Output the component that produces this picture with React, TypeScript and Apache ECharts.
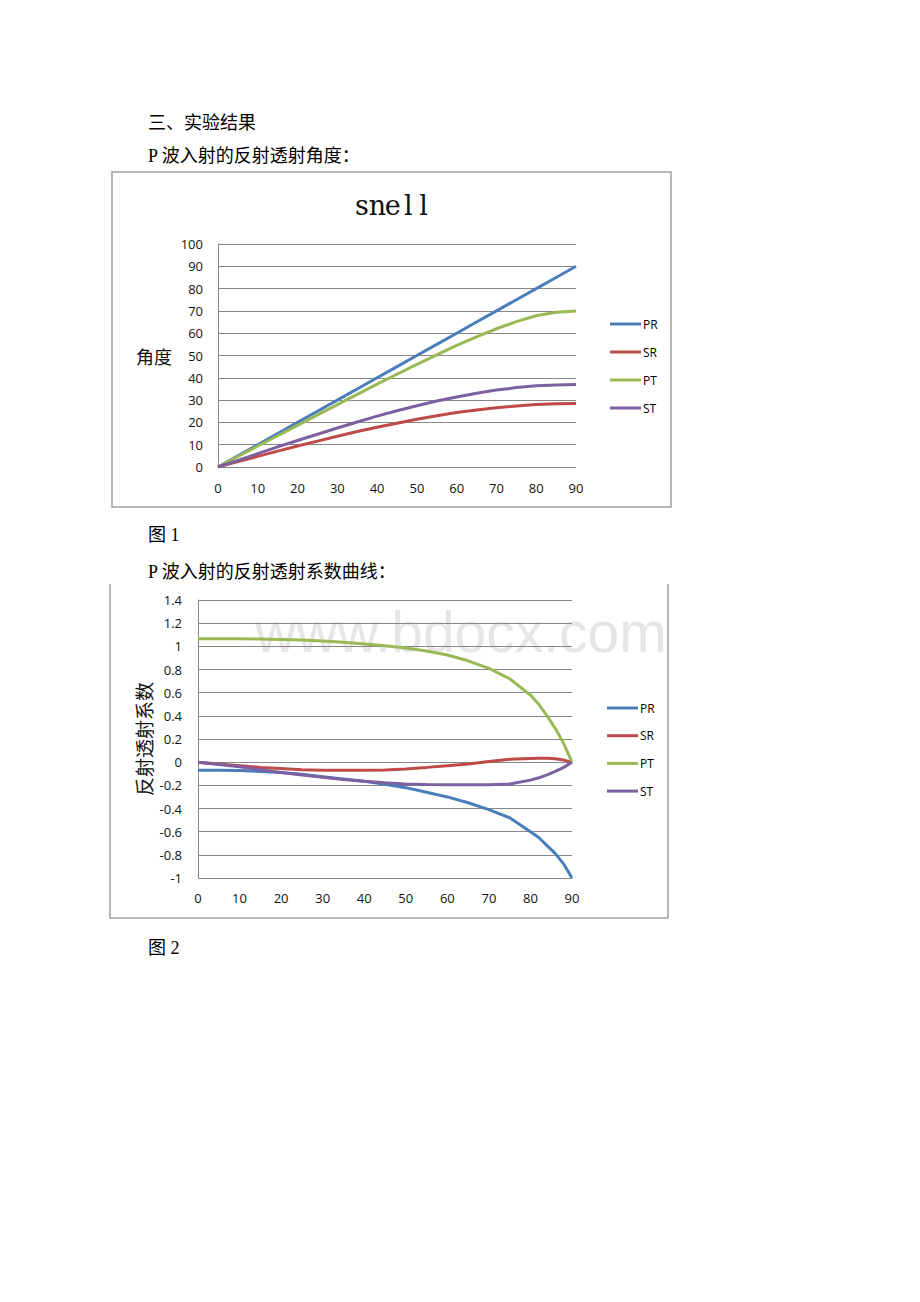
import React, { useEffect, useRef } from "react";
import * as echarts from "echarts";

// ---- Chart 1 data (snell angles) ----
const angles1 = [0, 5, 10, 15, 20, 25, 30, 35, 40, 45, 50, 55, 60, 65, 70, 75, 80, 85, 90];
const pr1 = [0, 5, 10, 15, 20, 25, 30, 35, 40, 45, 50, 55, 60, 65, 70, 75, 80, 85, 90];
const sr1 = [0, 2.4, 4.75, 7.1, 9.4, 11.6, 13.8, 15.9, 17.8, 19.6, 21.4, 23.0, 24.4, 25.6, 26.6, 27.4, 28.0, 28.4, 28.5];
const pt1 = [0, 4.7, 9.4, 14.0, 18.7, 23.4, 28.0, 32.6, 37.2, 41.6, 46.0, 50.3, 54.5, 58.4, 62.0, 65.2, 67.8, 69.4, 70];
const st1 = [0, 3.0, 6.0, 9.0, 11.9, 14.7, 17.5, 20.2, 22.8, 25.2, 27.5, 29.6, 31.4, 33.1, 34.5, 35.6, 36.4, 36.8, 37];

// ---- Chart 2 data (coefficients) ----
const angles2 = [0, 5, 10, 15, 20, 25, 30, 35, 40, 45, 50, 55, 60, 65, 70, 75, 80, 82, 84, 86, 88, 90];
const pr2 = [-0.07, -0.07, -0.072, -0.08, -0.09, -0.105, -0.125, -0.145, -0.165, -0.19, -0.22, -0.26, -0.3, -0.35, -0.41, -0.48, -0.6, -0.65, -0.72, -0.79, -0.88, -1.0];
const sr2 = [0, -0.015, -0.03, -0.045, -0.055, -0.065, -0.07, -0.07, -0.07, -0.068, -0.058, -0.045, -0.03, -0.015, 0.005, 0.025, 0.032, 0.034, 0.034, 0.03, 0.018, 0];
const pt2 = [1.065, 1.065, 1.065, 1.063, 1.06, 1.055, 1.045, 1.035, 1.02, 1.005, 0.985, 0.96, 0.925, 0.875, 0.81, 0.72, 0.58, 0.5, 0.4, 0.29, 0.16, 0];
const st2 = [0, -0.02, -0.04, -0.065, -0.09, -0.11, -0.13, -0.15, -0.165, -0.178, -0.188, -0.193, -0.195, -0.195, -0.195, -0.188, -0.155, -0.135, -0.11, -0.08, -0.045, 0];

const seriesNames = ["PR", "SR", "PT", "ST"];
const colors = ["#4A7EBB", "#BE4B48", "#98B954", "#7D60A0"];
const chartTitle = "snell";

const xTicks = { min: 0, max: 90, interval: 10 };

const pairs = (xs: number[], ys: number[]) => xs.map((x, i) => [x, ys[i]]);

export default function App() {
  const ref = useRef<HTMLDivElement>(null);
  useEffect(() => {
    if (!ref.current) return;
    const chart = echarts.init(ref.current, undefined, { renderer: "svg" });
    const gridColor = "#878787";
    const labelFont = { fontFamily: "Open Sans", fontSize: 13, color: "#111" };
    const data1 = [pr1, sr1, pt1, st1];
    const data2 = [pr2, sr2, pt2, st2];
    const lineSeries = (idx: number, d: number[][]) =>
      seriesNames.map((n, i) => ({
        name: n,
        type: "line",
        xAxisIndex: idx,
        yAxisIndex: idx,
        data: pairs(idx === 0 ? angles1 : angles2, d[i]),
        showSymbol: false,
        symbol: "none",
        lineStyle: { width: 3, color: colors[i] },
        itemStyle: { color: colors[i] },
        z: 3,
      }));
    const bodyFont = '18px "Liberation Serif", "Noto Sans CJK SC"';
    const bodyText = (text: string, x: number, y: number) => ({
      type: "text",
      style: { text, x, y, fill: "#000", font: bodyFont, textAlign: "left", textVerticalAlign: "middle" },
    });
    const titleLetters = chartTitle.split("").map((ch, i) => ({
      type: "text",
      style: {
        text: ch,
        x: 362 + i * 15.4,
        y: 205,
        fill: "#111",
        font: '27px "DejaVu Serif"',
        textAlign: "center",
        textVerticalAlign: "middle",
      },
      z: 5,
    }));
    const legendBase = {
      orient: "vertical",
      data: seriesNames,
      icon: "rect",
      itemWidth: 31,
      itemHeight: 3,
      textStyle: { fontFamily: "Open Sans", fontSize: 12, color: "#000", lineHeight: 14, padding: [0, 0, 0, -3] },
      selectedMode: false,
    };
    chart.setOption({
      animation: false,
      backgroundColor: "#fff",
      color: colors,
      grid: [
        { left: 218, top: 244, width: 358, height: 223 },
        { left: 198, top: 600, width: 374, height: 278 },
      ],
      xAxis: [0, 1].map((g) => ({
        type: "value",
        gridIndex: g,
        ...xTicks,
        axisLine: { show: false },
        axisTick: { show: false },
        splitLine: { show: false },
        axisLabel: { ...labelFont, margin: g === 0 ? 14 : 13 },
      })),
      yAxis: [
        {
          type: "value",
          gridIndex: 0,
          min: 0,
          max: 100,
          interval: 10,
          axisLine: { show: true, lineStyle: { color: gridColor } },
          axisTick: { show: false },
          splitLine: { show: true, lineStyle: { color: gridColor, width: 1 } },
          axisLabel: { ...labelFont, margin: 15 },
        },
        {
          type: "value",
          gridIndex: 1,
          min: -1,
          max: 1.4,
          interval: 0.2,
          axisLine: { show: true, lineStyle: { color: gridColor } },
          axisTick: { show: false },
          splitLine: { show: true, lineStyle: { color: gridColor, width: 1 } },
          axisLabel: { ...labelFont, margin: 16, formatter: (v: number) => String(Math.round(v * 10) / 10) },
        },
      ],
      legend: [
        { ...legendBase, left: 605, top: 312, itemGap: 14 },
        { ...legendBase, left: 602, top: 696, itemGap: 13.7 },
      ],
      graphic: [
        bodyText("三、实验结果", 148, 123),
        bodyText("P 波入射的反射透射角度：", 148, 156),
        bodyText("图 1", 148, 535),
        bodyText("P 波入射的反射透射系数曲线：", 148, 572),
        bodyText("图 2", 148, 948),
        {
          type: "rect",
          shape: { x: 112, y: 172, width: 559, height: 335 },
          style: { fill: "none", stroke: "#a0a0a0", lineWidth: 1.5 },
          z: 1,
        },
        {
          type: "polyline",
          shape: { points: [[110, 584], [110, 918], [668, 918], [668, 584]] },
          style: { fill: "none", stroke: "#a0a0a0", lineWidth: 1.5 },
          z: 1,
        },
        ...titleLetters,
        {
          type: "text",
          style: { text: "角度", x: 154, y: 356, fill: "#111", font: '18px "Noto Sans CJK SC"', textAlign: "center", textVerticalAlign: "middle" },
          z: 5,
        },
        {
          type: "text",
          x: 143,
          y: 739,
          rotation: Math.PI / 2,
          style: { text: "反射透射系数", x: 0, y: 0, fill: "#111", font: '19px "Noto Sans CJK SC"', textAlign: "center", textVerticalAlign: "middle" },
          z: 5,
        },
        {
          type: "text",
          style: { text: "www.bdocx.com", x: 255, y: 632, fill: "#e6e6e6", font: '57px "Liberation Sans"', textAlign: "left", textVerticalAlign: "middle" },
          z: 0,
        },
      ],
      series: [...lineSeries(0, data1), ...lineSeries(1, data2)],
    });
    return () => chart.dispose();
  }, []);
  return <div ref={ref} style={{ position: "absolute", left: 0, top: 0, width: 920, height: 1302 }} />;
}
